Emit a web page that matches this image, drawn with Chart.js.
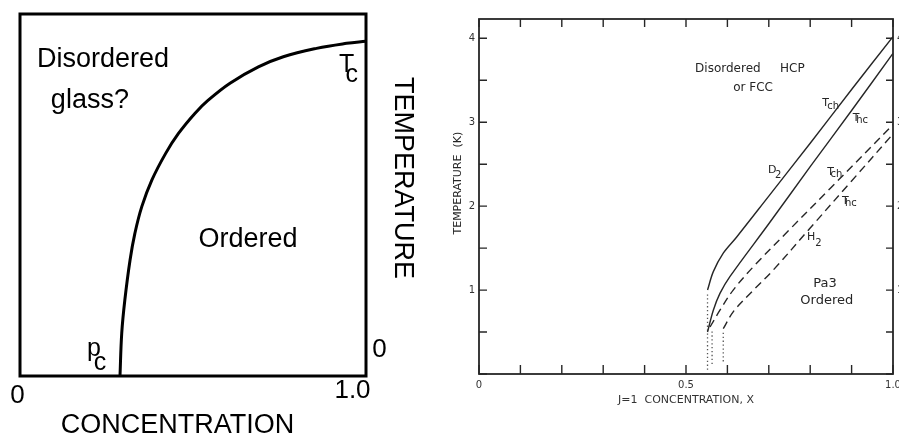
<!DOCTYPE html>
<html>
<head>
<meta charset="utf-8">
<script src="https://cdn.jsdelivr.net/npm/chart.js@4.4.0/dist/chart.umd.min.js"></script>
<style>
  body { margin: 0; background: #fff; width: 899px; height: 436px; overflow: hidden; position: relative; }
  #left { position: absolute; left: 0; top: 0; }
  #right { position: absolute; left: 440px; top: 0; }
</style>
</head>
<body>
<canvas id="left" width="440" height="436"></canvas>
<canvas id="right" width="459" height="436"></canvas>
<script>
// ---- left panel: schematic phase boundary T_c(p)
const conc = [0.289, 0.294, 0.303, 0.318, 0.332, 0.352, 0.381, 0.421, 0.458, 0.506, 0.544, 0.607, 0.689, 0.761, 0.857, 0.944, 1.0];
const tempTc = [0, 0.118, 0.210, 0.320, 0.394, 0.468, 0.541, 0.615, 0.670, 0.726, 0.762, 0.809, 0.854, 0.882, 0.905, 0.919, 0.925];
const leftTickText = ['0', '1.0'];
const leftTempZero = '0';
const leftXTitle = 'CONCENTRATION';
const leftYTitle = 'TEMPERATURE';

// ---- right panel: D2 and H2 transition lines vs J=1 concentration
const d2TchX = [0.552, 0.566, 0.590, 0.622, 0.700, 0.800, 0.900, 1.0];
const d2TchY = [1.0, 1.22, 1.44, 1.63, 2.12, 2.75, 3.39, 4.02];
const d2ThcX = [0.552, 0.566, 0.582, 0.606, 0.700, 0.800, 0.900, 1.0];
const d2ThcY = [0.50, 0.76, 0.96, 1.16, 1.79, 2.47, 3.14, 3.82];
const h2TchX = [0.558, 0.582, 0.614, 0.663, 0.750, 0.850, 1.0];
const h2TchY = [0.56, 0.76, 1.0, 1.28, 1.72, 2.22, 2.97];
const h2ThcX = [0.590, 0.614, 0.655, 0.711, 0.800, 0.900, 1.0];
const h2ThcY = [0.54, 0.74, 0.96, 1.24, 1.74, 2.30, 2.86];
// dotted drops to the percolation limits
const dropX = [0.552, 0.563, 0.590];
const dropTop = [0.98, 0.52, 0.52];
const dropBottom = [0.05, 0.12, 0.15];

const xTickValues = [0, 0.1, 0.2, 0.3, 0.4, 0.5, 0.6, 0.7, 0.8, 0.9, 1.0];
const xTickText = ['0', '', '', '', '', '0.5', '', '', '', '', '1.0'];
const yTickValues = [0, 0.5, 1, 1.5, 2, 2.5, 3, 3.5, 4];
const yTickText = ['', '', '1', '', '2', '', '3', '', '4'];
const rightXTitle = 'J=1  CONCENTRATION, X';
const rightYTitle = 'TEMPERATURE  (K)';

const pts = (xs, ys) => xs.map((x, i) => ({x: x, y: ys[i]}));

// draws frame, inward tick marks and the free text of a panel
function annotate(cfg) {
  return {
    id: 'annotate',
    afterDraw(chart) {
      const {ctx, chartArea: a} = chart;
      const sx = chart.scales.x, sy = chart.scales.y;
      ctx.save();
      ctx.strokeStyle = cfg.color;
      ctx.lineWidth = cfg.frame;
      ctx.strokeRect(a.left, a.top, a.right - a.left, a.bottom - a.top);
      if (cfg.marks) {
        ctx.lineWidth = 1.4;
        ctx.beginPath();
        sx.ticks.forEach(t => {
          const px = sx.getPixelForValue(t.value);
          ctx.moveTo(px, a.bottom); ctx.lineTo(px, a.bottom - 9);
          ctx.moveTo(px, a.top); ctx.lineTo(px, a.top + 8);
        });
        sy.ticks.forEach(t => {
          const py = sy.getPixelForValue(t.value);
          ctx.moveTo(a.left, py); ctx.lineTo(a.left + 8, py);
          ctx.moveTo(a.right, py); ctx.lineTo(a.right - 7, py);
        });
        ctx.stroke();
      }
      ctx.fillStyle = cfg.color;
      cfg.texts.forEach(t => {
        ctx.font = t.size + 'px ' + cfg.family;
        ctx.textAlign = t.align || 'center';
        ctx.textBaseline = t.base || 'alphabetic';
        const px = sx.getPixelForValue(t.x), py = sy.getPixelForValue(t.y);
        if (t.rot) {
          ctx.save();
          ctx.translate(px, py);
          ctx.rotate(t.rot);
          ctx.fillText(t.text, 0, 0);
          ctx.restore();
        } else {
          ctx.fillText(t.text, px, py);
        }
      });
      ctx.restore();
    }
  };
}

new Chart(document.getElementById('left'), {
  type: 'line',
  data: {
    datasets: [{
      data: pts(conc, tempTc),
      borderColor: '#000',
      borderWidth: 3,
      pointRadius: 0,
      tension: 0.4,
      clip: false
    }]
  },
  options: {
    responsive: false,
    animation: false,
    devicePixelRatio: 1,
    layout: { padding: { left: 20, top: 14, right: 74, bottom: 60 } },
    plugins: { legend: { display: false }, tooltip: { enabled: false } },
    scales: {
      x: { type: 'linear', min: 0, max: 1, display: false },
      y: { type: 'linear', min: 0, max: 1, display: false }
    }
  },
  plugins: [annotate({
    color: '#000', frame: 3, marks: false, family: '"Liberation Sans", Arial, sans-serif',
    texts: [
      { text: 'Disordered', x: 0.240, y: 0.854, size: 27 },
      { text: 'glass?', x: 0.202, y: 0.740, size: 27 },
      { text: 'Ordered', x: 0.659, y: 0.357, size: 27 },
      { text: 'T', x: 0.944, y: 0.841, size: 25 },
      { text: 'c', x: 0.959, y: 0.812, size: 25 },
      { text: 'p', x: 0.214, y: 0.055, size: 25 },
      { text: 'c', x: 0.231, y: 0.017, size: 25 },
      { text: leftTempZero, x: 1.039, y: 0.052, size: 26 },
      { text: leftTickText[0], x: -0.007, y: -0.075, size: 26 },
      { text: leftTickText[1], x: 0.961, y: -0.061, size: 26 },
      { text: leftXTitle, x: 0.455, y: -0.157, size: 27 },
      { text: leftYTitle, x: 1.105, y: 0.547, size: 27, base: 'middle', rot: Math.PI / 2 }
    ]
  })]
});

const solid = { borderColor: '#262626', borderWidth: 1.4, pointRadius: 0, tension: 0.35 };
const dashed = Object.assign({}, solid, { borderDash: [8, 5] });
const dotted = { borderColor: '#555', borderWidth: 1.3, pointRadius: 0, borderDash: [1.3, 2.6] };

const drops = dropX.map((x, i) => Object.assign({ data: [{x: x, y: dropBottom[i]}, {x: x, y: dropTop[i]}] }, dotted));

new Chart(document.getElementById('right'), {
  type: 'line',
  data: {
    datasets: [
      Object.assign({ label: 'D2 Tch', data: pts(d2TchX, d2TchY) }, solid),
      Object.assign({ label: 'D2 Thc', data: pts(d2ThcX, d2ThcY) }, solid),
      Object.assign({ label: 'H2 Tch', data: pts(h2TchX, h2TchY) }, dashed),
      Object.assign({ label: 'H2 Thc', data: pts(h2ThcX, h2ThcY) }, dashed)
    ].concat(drops)
  },
  options: {
    responsive: false,
    animation: false,
    devicePixelRatio: 1,
    layout: { padding: { top: 19, left: 0, right: 0, bottom: 0 } },
    plugins: { legend: { display: false }, tooltip: { enabled: false } },
    scales: {
      x: {
        type: 'linear', min: 0, max: 1,
        afterBuildTicks: s => { s.ticks = xTickValues.map(v => ({value: v})); },
        afterFit: s => { s.height = 62; s.paddingLeft = 0; s.paddingRight = 0; },
        grid: { display: false, drawTicks: false },
        border: { display: false },
        ticks: {
          autoSkip: false, maxRotation: 0, padding: 5, color: '#333',
          font: { family: '"DejaVu Sans"', size: 10 },
          callback: v => xTickText[xTickValues.indexOf(v)]
        },
        title: {
          display: true, text: rightXTitle, color: '#333',
          font: { family: '"DejaVu Sans"', size: 11 },
          padding: { top: 0, bottom: 29 }
        }
      },
      y: {
        type: 'linear', min: 0, max: 4.23,
        afterBuildTicks: s => { s.ticks = yTickValues.map(v => ({value: v})); },
        afterFit: s => { s.width = 39; s.paddingTop = 0; s.paddingBottom = 0; },
        grid: { display: false, drawTicks: false },
        border: { display: false },
        ticks: {
          autoSkip: false, padding: 4, color: '#333',
          font: { family: '"DejaVu Sans"', size: 10 },
          callback: v => yTickText[yTickValues.indexOf(v)]
        }
      },
      y2: {
        type: 'linear', position: 'right', min: 0, max: 4.23,
        afterBuildTicks: s => { s.ticks = yTickValues.map(v => ({value: v})); },
        afterFit: s => { s.width = 6; s.paddingTop = 0; s.paddingBottom = 0; },
        grid: { display: false, drawTicks: false },
        border: { display: false },
        ticks: {
          autoSkip: false, padding: 4, color: '#333',
          font: { family: '"DejaVu Sans"', size: 10 },
          callback: v => yTickText[yTickValues.indexOf(v)]
        }
      }
    }
  },
  plugins: [annotate({
    color: '#262626', frame: 1.8, marks: true, family: '"DejaVu Sans", sans-serif',
    texts: [
      { text: 'Disordered', x: 0.522, y: 3.601, size: 12, align: 'left' },
      { text: 'HCP', x: 0.727, y: 3.601, size: 12, align: 'left' },
      { text: 'or FCC', x: 0.614, y: 3.375, size: 12, align: 'left' },
      { text: 'T', x: 0.829, y: 3.190, size: 11, align: 'left' },
      { text: 'ch', x: 0.841, y: 3.155, size: 10, align: 'left' },
      { text: 'T', x: 0.903, y: 3.012, size: 11, align: 'left' },
      { text: 'hc', x: 0.911, y: 2.988, size: 10, align: 'left' },
      { text: 'D', x: 0.698, y: 2.393, size: 11, align: 'left' },
      { text: '2', x: 0.715, y: 2.333, size: 10, align: 'left' },
      { text: 'T', x: 0.841, y: 2.369, size: 11, align: 'left' },
      { text: 'ch', x: 0.849, y: 2.351, size: 10, align: 'left' },
      { text: 'T', x: 0.877, y: 2.024, size: 11, align: 'left' },
      { text: 'hc', x: 0.884, y: 2.0, size: 10, align: 'left' },
      { text: 'H', x: 0.792, y: 1.595, size: 11, align: 'left' },
      { text: '2', x: 0.812, y: 1.524, size: 10, align: 'left' },
      { text: 'Pa3', x: 0.836, y: 1.036, size: 13 },
      { text: 'Ordered', x: 0.840, y: 0.833, size: 13 },
      { text: rightYTitle, x: -0.051, y: 2.274, size: 11, base: 'middle', rot: -Math.PI / 2 }
    ]
  })]
});
</script>
</body>
</html>
